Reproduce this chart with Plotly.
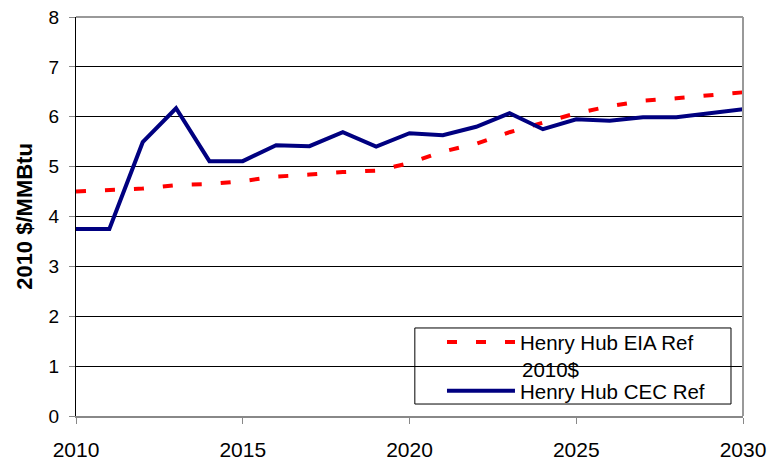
import plotly.graph_objects as go

years = list(range(2010, 2031))
eia_ref = [4.50, 4.54, 4.56, 4.63, 4.65, 4.71, 4.80, 4.84, 4.89, 4.92, 5.07,
           5.30, 5.46, 5.69, 5.88, 6.07, 6.21, 6.32, 6.37, 6.42, 6.49]
cec_ref = [3.75, 3.75, 5.49, 6.17, 5.11, 5.11, 5.43, 5.41, 5.69, 5.40, 5.67,
           5.63, 5.80, 6.07, 5.75, 5.95, 5.92, 5.99, 5.99, 6.07, 6.15]
x_ticks = [2010, 2015, 2020, 2025, 2030]
y_ticks = [0, 1, 2, 3, 4, 5, 6, 7, 8]
eia_name = "Henry Hub EIA Ref"
eia_unit = "2010$"
cec_name = "Henry Hub CEC Ref"

font = "Liberation Sans, Arial, sans-serif"

fig = go.Figure()
fig.add_trace(go.Scatter(x=years, y=eia_ref, mode="lines",
                         name=eia_name, legendgroup="eia",
                         line=dict(color="#ff0000", width=4, dash="10px,19px")))
fig.add_trace(go.Scatter(x=years, y=cec_ref, mode="lines",
                         name=cec_name, legendgroup="cec",
                         line=dict(color="#000080", width=4)))

fig.update_layout(
    width=767, height=460,
    margin=dict(l=76, r=24, t=17, b=44, autoexpand=False),
    paper_bgcolor="white", plot_bgcolor="white",
    font=dict(family=font, size=19, color="black"),
    showlegend=True,
    legend=dict(x=0.5487, y=0.235, xanchor="left", yanchor="top",
                borderwidth=0, bgcolor="rgba(0,0,0,0)",
                font=dict(size=20.5), itemwidth=68, valign="top",
                tracegroupgap=19, groupclick="toggleitem"),
    xaxis=dict(range=[2010, 2030], tickvals=x_ticks, showgrid=False,
               showline=True, linecolor="#888888", linewidth=2,
               ticks="outside", ticklen=6, tickcolor="#888888", zeroline=False,
               ticklabelstandoff=8, ticklabeloverflow="allow",
               automargin=False, tickfont=dict(size=21)),
    yaxis=dict(range=[0, 8], tickvals=y_ticks, showgrid=True,
               gridcolor="black", gridwidth=1,
               showline=True, linecolor="black", linewidth=1,
               ticks="outside", ticklen=6, tickcolor="#888888", zeroline=False,
               ticklabelstandoff=6, ticklabeloverflow="allow", automargin=False,
               tickfont=dict(size=19),
               title=dict(text="<b>2010 $/MMBtu</b>", font=dict(size=22), standoff=9)),
    annotations=[dict(text=eia_unit, xref="paper", yref="paper", x=0.6657, y=0.117,
                      xanchor="left", yanchor="middle", showarrow=False,
                      font=dict(size=20.5))],
    shapes=[dict(type="line", xref="paper", yref="paper", x0=0, x1=1, y0=1, y1=1,
                 line=dict(color="#999999", width=2)),
            dict(type="line", xref="paper", yref="paper", x0=1, x1=1, y0=0, y1=1,
                 line=dict(color="#999999", width=2)),
            dict(type="rect", xref="paper", yref="paper", x0=0.508, x1=0.982,
                 y0=0.030, y1=0.2206, line=dict(color="black", width=1),
                 fillcolor="white", layer="below")],
)

fig.write_html("out.html",
               config={"displayModeBar": False},
               post_script="document.body.style.margin='0';"
                           "document.documentElement.style.overflow='hidden';")
